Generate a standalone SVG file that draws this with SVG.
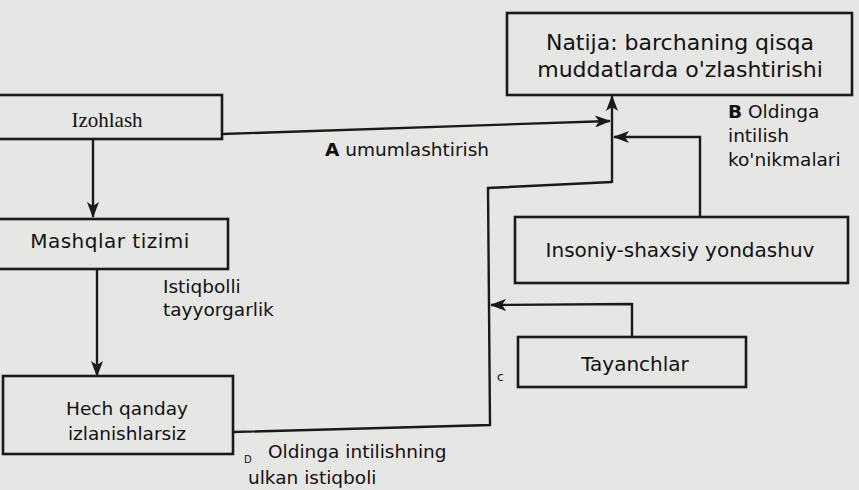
<svg xmlns="http://www.w3.org/2000/svg" width="859" height="490" viewBox="0 0 859 490">
<defs>
<style>
.box{fill:#e6e6e4;stroke:#1a1a1a;stroke-width:2.6}
.ln{fill:none;stroke:#1a1a1a;stroke-width:2.4}
.t{font-family:"DejaVu Sans",Verdana,sans-serif;font-size:18.5px;fill:#111}
.c{text-anchor:middle}
.s{font-family:"Liberation Serif",serif;font-size:21px;fill:#111}
.b{font-weight:bold}
.big{font-size:22px}
.mid{font-size:20px}
</style>
<marker id="ah" viewBox="0 0 16 12" refX="15" refY="6" markerWidth="16" markerHeight="12" markerUnits="userSpaceOnUse" orient="auto">
<path d="M0,0 L16,6 L0,12 L4,6 Z" fill="#1a1a1a"/>
</marker>
</defs>
<rect x="0" y="0" width="859" height="490" fill="#e6e6e4"/>
<g id="connectors">
<line class="ln" x1="93" y1="139" x2="93" y2="217" marker-end="url(#ah)"/>
<line class="ln" x1="97" y1="269" x2="97" y2="376" marker-end="url(#ah)"/>
<line class="ln" x1="222" y1="134" x2="610" y2="121" marker-end="url(#ah)"/>
<line class="ln" x1="612" y1="183" x2="612" y2="96" marker-end="url(#ah)"/>
<polyline class="ln" points="700,217 700,137 614,137" marker-end="url(#ah)"/>
<polyline class="ln" points="233,432 490,425 488,188 612,182"/>
<polyline class="ln" points="632,337 632,304 491,305" marker-end="url(#ah)"/>
</g>
<g id="izohlash">
<rect class="box" x="-3" y="95" width="225" height="44"/>
<text class="s c" x="107" y="127">Izohlash</text>
</g>
<g id="mashqlar">
<rect class="box" x="-3" y="219" width="231" height="50"/>
<text class="t c mid" x="110" y="248" style="letter-spacing:0.5px">Mashqlar tizimi</text>
</g>
<g id="hech">
<rect class="box" x="3" y="376" width="230" height="78"/>
<text class="t c" x="127" y="415">Hech qanday</text>
<text class="t c" x="127" y="440">izlanishlarsiz</text>
</g>
<g id="natija">
<rect class="box" x="507" y="13" width="345" height="82"/>
<text class="t c big" x="680" y="50">Natija: barchaning qisqa</text>
<text class="t c big" x="680" y="77">muddatlarda  o'zlashtirishi</text>
</g>
<g id="insoniy">
<rect class="box" x="515" y="217" width="333" height="66"/>
<text class="t c mid" x="680" y="257">Insoniy-shaxsiy yondashuv</text>
</g>
<g id="tayanchlar">
<rect class="box" x="518" y="337" width="228" height="50"/>
<text class="t c mid" x="635" y="371">Tayanchlar</text>
</g>
<g id="labels">
<text class="t" x="325" y="156"><tspan class="b">A</tspan> umumlashtirish</text>
<text class="t" x="728" y="118"><tspan class="b">B</tspan> Oldinga</text>
<text class="t" x="728" y="142">intilish</text>
<text class="t" x="728" y="166">ko'nikmalari</text>
<text class="t" x="163" y="293">Istiqbolli</text>
<text class="t" x="163" y="316">tayyorgarlik</text>
<text class="t" x="244" y="463" style="font-size:10px">D</text>
<text class="t" x="268" y="458">Oldinga intilishning</text>
<text class="t" x="248" y="484">ulkan istiqboli</text>
<text class="t" x="497" y="381" style="font-size:12px">c</text>
</g>
</svg>
